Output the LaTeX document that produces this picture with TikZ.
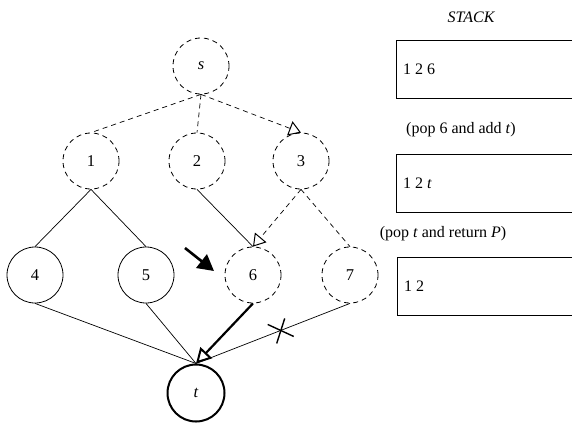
\documentclass[tikz,border=0pt]{standalone}
\usepackage{fontspec}
\setmainfont{Liberation Serif}
\usetikzlibrary{arrows.meta,calc}
\begin{document}
\begin{tikzpicture}[x=1pt,y=-1pt,
  vtx/.style={circle,draw,line width=0.8pt,minimum size=56pt,inner sep=0pt,font=\fontsize{16.5}{18}\selectfont},
  open/.style={vtx,dash pattern=on 5pt off 4pt},
  sink/.style={vtx,line width=2pt,minimum size=57pt},
  stackbox/.style={draw,line width=1pt,minimum height=58pt,minimum width=180pt,anchor=north west,inner sep=0pt},
  lbl/.style={font=\fontsize{16}{18}\selectfont,inner sep=0pt},
  tree/.style={line width=0.7pt},
  dsh/.style={dash pattern=on 5pt off 4pt},
  openhead/.style={-{Triangle[open,length=12pt,width=15pt,line width=1pt]}}]
\useasboundingbox (0,0) rectangle (572,424);
% vertices
\node[open] (s) at (201,66) {\itshape s};
\node[open] (n1) at (91,161) {1};
\node[open] (n2) at (197,161) {2};
\node[open] (n3) at (301,161) {3};
\node[vtx] (n4) at (35,275) {4};
\node[vtx] (n5) at (146,275) {5};
\node[open] (n6) at (253,275) {6};
\node[open] (n7) at (350,275) {7};
\node[sink] (t) at (196,393) {\itshape t};
% explored (dashed) edges
\draw[tree,dsh] (s.south) -- (n1.north);
\draw[tree,dsh] (s.south) -- (n2.north);
\draw[tree,dsh,openhead] (s.south) -- (n3.north);
\draw[tree,dsh,openhead] (n3.south) -- (n6.north);
\draw[tree,dsh] (n3.south) -- (n7.north);
% remaining edges
\draw[tree] (n1.south) -- (n4.north);
\draw[tree] (n1.south) -- (n5.north);
\draw[tree] (n2.south) -- (n6.north);
\draw[tree] (n4.south) -- (t.north);
\draw[tree] (n5.south) -- (t.north);
\draw[tree] (n7.south) -- (t.north) coordinate[pos=0.45] (cut);
\draw[line width=1.4pt] ($(cut)+(-13,-6)$) -- ($(cut)+(13,6)$);
\draw[line width=1.4pt] ($(cut)+(-4,13)$) -- ($(cut)+(4,-12)$);
\draw[line width=2.2pt,-{Triangle[open,length=15pt,width=16pt,line width=2pt]}] (n6.south) -- (t.north);
% pointer to the current vertex
\coordinate (p0) at (185,248);
\coordinate (p1) at (214,271);
\draw[line width=2.6pt,-{Triangle[length=16pt,width=17pt]}] (p0) -- (p1);
% stack states
\node[lbl,font=\fontsize{16}{18}\selectfont\itshape] (st) at (471,17) {STACK};
\node[stackbox] (b1) at (396,40) {};
\node[lbl,anchor=west] (t1) at ([xshift=7pt]b1.west) {1 2 6};
\node[lbl] (c1) at (461,130) {(pop 6 and add \textit{t})};
\node[stackbox] (b2) at (396,154) {};
\node[lbl,anchor=west] (t2) at ([xshift=7pt]b2.west) {1 2 \textit{t}};
\node[lbl] (c2) at (443,234) {(pop \textit{t} and return \textit{P})};
\node[stackbox] (b3) at (397,257) {};
\node[lbl,anchor=west] (t3) at ([xshift=7pt]b3.west) {1 2};
\end{tikzpicture}
\end{document}
